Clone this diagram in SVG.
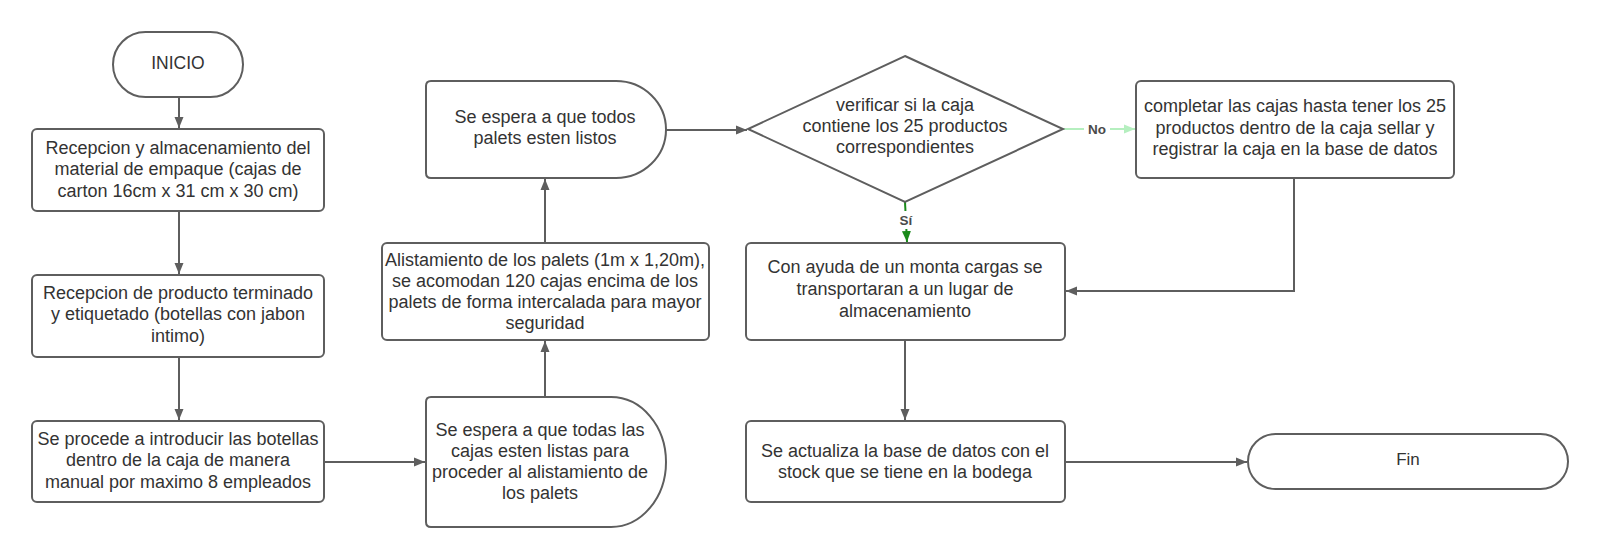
<svg xmlns="http://www.w3.org/2000/svg" width="1600" height="559" viewBox="0 0 1600 559">
<style>
.s{fill:#fff;stroke:#5e5e5e;stroke-width:2}
.t{font-family:"Liberation Sans",Arial,sans-serif;font-size:18px;fill:#333;text-anchor:middle}
.c{fill:none;stroke:#5e5e5e;stroke-width:2}
.lb{font-family:"Liberation Sans",Arial,sans-serif;font-size:13.5px;font-weight:bold;fill:#4a4a4a;text-anchor:middle}
</style>
<defs>
<marker id="a" markerUnits="userSpaceOnUse" markerWidth="12" markerHeight="12" viewBox="0 0 12 12" refX="11" refY="6" orient="auto"><path d="M0,1.5 L11,6 L0,10.5 Z" fill="#5e5e5e"/></marker>
<marker id="ag" markerUnits="userSpaceOnUse" markerWidth="12" markerHeight="12" viewBox="0 0 12 12" refX="11" refY="6" orient="auto"><path d="M0,1.5 L11,6 L0,10.5 Z" fill="#1a8a1a"/></marker>
<marker id="al" markerUnits="userSpaceOnUse" markerWidth="12" markerHeight="12" viewBox="0 0 12 12" refX="11" refY="6" orient="auto"><path d="M0,1.5 L11,6 L0,10.5 Z" fill="#b5efbf"/></marker>
</defs>
<rect width="1600" height="559" fill="#fff"/>
<g id="connectors">
<path class="c" d="M179,97 V128" marker-end="url(#a)"/>
<path class="c" d="M179,211 V274" marker-end="url(#a)"/>
<path class="c" d="M179,357 V420" marker-end="url(#a)"/>
<path class="c" d="M324,462 H425" marker-end="url(#a)"/>
<path class="c" d="M545,397 V341" marker-end="url(#a)"/>
<path class="c" d="M545,243 V179" marker-end="url(#a)"/>
<path class="c" d="M666,130 H747" marker-end="url(#a)"/>
<path d="M1063,129 H1135" fill="none" stroke="#b5efbf" stroke-width="2" marker-end="url(#al)"/>
<rect x="1084" y="120" width="26" height="18" fill="#fff"/>
<text class="lb" x="1097" y="134">No</text>
<path d="M905,202 L907,242" fill="none" stroke="#1a8a1a" stroke-width="2" marker-end="url(#ag)"/>
<rect x="896" y="211" width="20" height="18" fill="#fff"/>
<text class="lb" x="906" y="225">Sí</text>
<path class="c" d="M1294,178 V291 H1066" marker-end="url(#a)"/>
<path class="c" d="M905,340 V420" marker-end="url(#a)"/>
<path class="c" d="M1065,462 H1247" marker-end="url(#a)"/>
</g>
<g id="inicio">
<rect class="s" x="113" y="32" width="130" height="65" rx="32.5"/>
<text class="t" x="178" y="69" style="font-size:17.5px">INICIO</text>
</g>
<g id="recepcion-material">
<rect class="s" x="32" y="129" width="292" height="82" rx="5"/>
<text class="t" x="178" y="154">Recepcion y almacenamiento del</text>
<text class="t" x="178" y="175">material de empaque (cajas de</text>
<text class="t" x="178" y="197">carton 16cm x 31 cm x 30 cm)</text>
</g>
<g id="recepcion-producto">
<rect class="s" x="32" y="275" width="292" height="82" rx="5"/>
<text class="t" x="178" y="299">Recepcion de producto terminado</text>
<text class="t" x="178" y="320">y etiquetado (botellas con jabon</text>
<text class="t" x="178" y="342">intimo)</text>
</g>
<g id="introducir">
<rect class="s" x="32" y="421" width="292" height="81" rx="5"/>
<text class="t" x="178" y="445">Se procede a introducir las botellas</text>
<text class="t" x="178" y="466">dentro de la caja de manera</text>
<text class="t" x="178" y="488">manual por maximo 8 empleados</text>
</g>
<g id="espera-cajas">
<path class="s" d="M431,397 H611 A55,65 0 0 1 611,527 H431 Q426,527 426,522 V402 Q426,397 431,397 Z"/>
<text class="t" x="540" y="436">Se espera a que todas las</text>
<text class="t" x="540" y="457">cajas esten listas para</text>
<text class="t" x="540" y="478">proceder al alistamiento de</text>
<text class="t" x="540" y="499">los palets</text>
</g>
<g id="alistamiento">
<rect class="s" x="382" y="243" width="327" height="97" rx="5"/>
<text class="t" x="545" y="266">Alistamiento de los palets (1m x 1,20m),</text>
<text class="t" x="545" y="287">se acomodan 120 cajas encima de los</text>
<text class="t" x="545" y="308">palets de forma intercalada para mayor</text>
<text class="t" x="545" y="329">seguridad</text>
</g>
<g id="espera-palets">
<path class="s" d="M431,81 H616 A50,48.5 0 0 1 616,178 H431 Q426,178 426,173 V86 Q426,81 431,81 Z"/>
<text class="t" x="545" y="123">Se espera a que todos</text>
<text class="t" x="545" y="144">palets esten listos</text>
</g>
<g id="verificar">
<path class="s" d="M905,56 L1063,129 L905,202 L748,129 Z"/>
<text class="t" x="905" y="111">verificar si la caja</text>
<text class="t" x="905" y="132">contiene los 25 productos</text>
<text class="t" x="905" y="153">correspondientes</text>
</g>
<g id="completar">
<rect class="s" x="1136" y="81" width="318" height="97" rx="5"/>
<text class="t" x="1295" y="112">completar las cajas hasta tener los 25</text>
<text class="t" x="1295" y="134">productos dentro de la caja sellar y</text>
<text class="t" x="1295" y="155">registrar la caja en la base de datos</text>
</g>
<g id="transporte">
<rect class="s" x="746" y="243" width="319" height="97" rx="5"/>
<text class="t" x="905" y="273">Con ayuda de un monta cargas se</text>
<text class="t" x="905" y="295">transportaran a un lugar de</text>
<text class="t" x="905" y="317">almacenamiento</text>
</g>
<g id="actualiza">
<rect class="s" x="746" y="421" width="319" height="81" rx="5"/>
<text class="t" x="905" y="457">Se actualiza la base de datos con el</text>
<text class="t" x="905" y="478">stock que se tiene en la bodega</text>
</g>
<g id="fin">
<rect class="s" x="1248" y="434" width="320" height="55" rx="27.5"/>
<text class="t" x="1408" y="465" style="font-size:17px">Fin</text>
</g>
</svg>
